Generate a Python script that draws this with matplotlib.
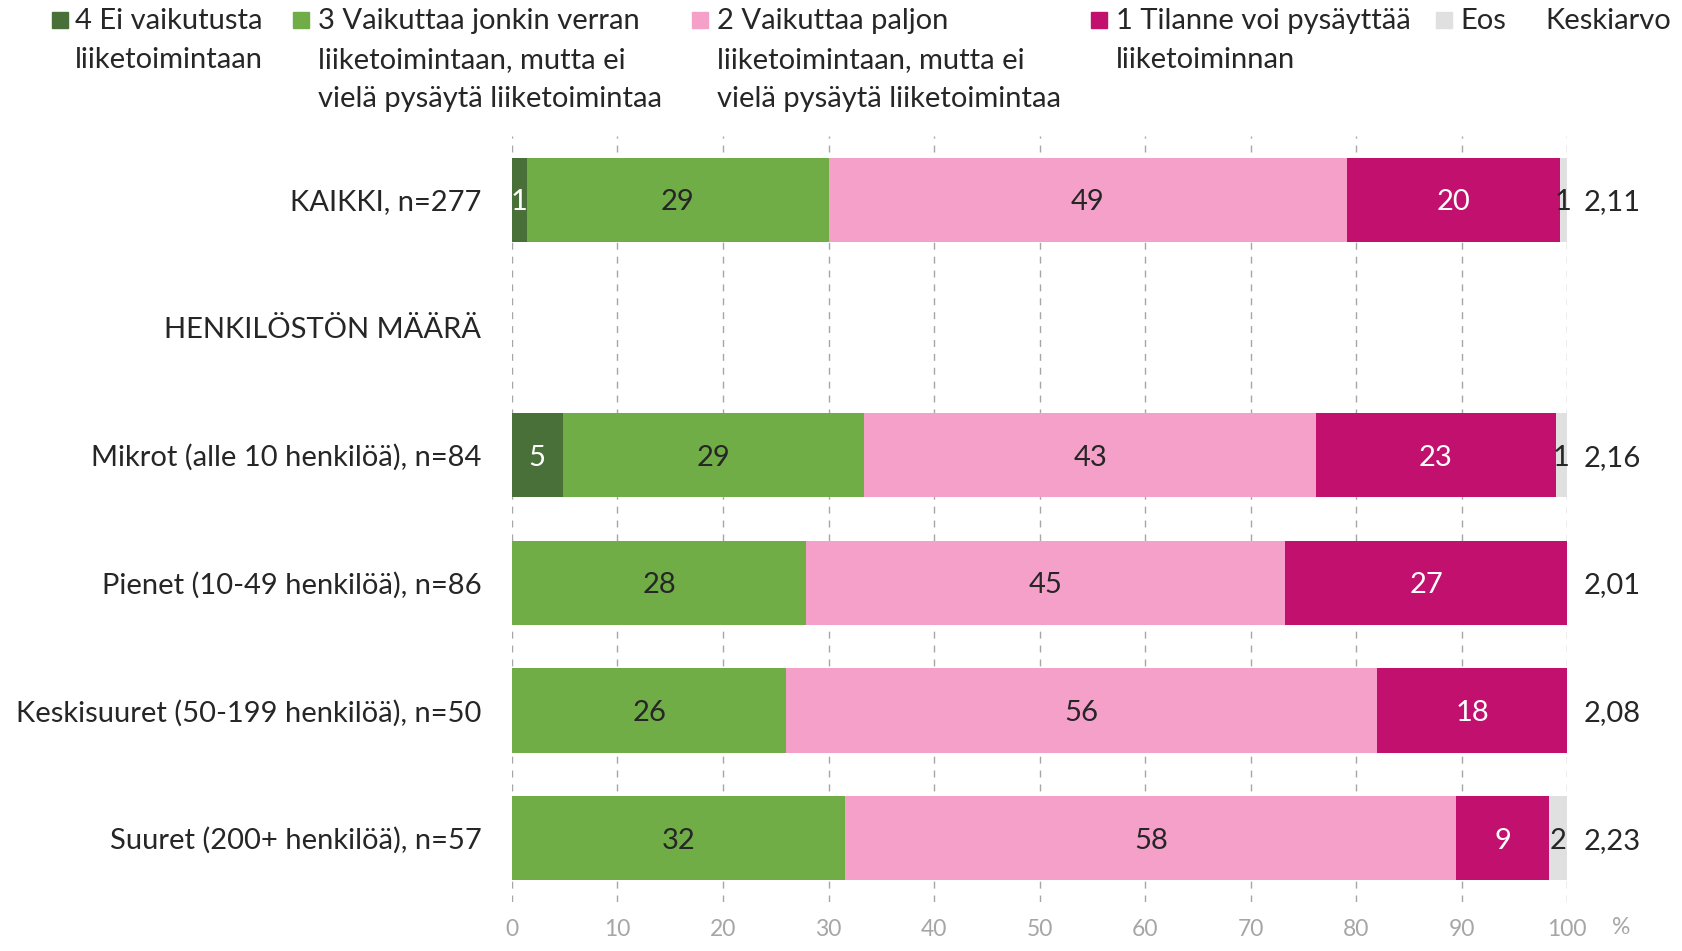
import matplotlib
matplotlib.use("Agg")
import matplotlib.pyplot as plt
import numpy as np

plt.rcParams['font.family'] = ['Lato', 'DejaVu Sans']

categories = ["KAIKKI, n=277", "HENKILÖSTÖN MÄÄRÄ", "Mikrot (alle 10 henkilöä), n=84",
              "Pienet (10-49 henkilöä), n=86", "Keskisuuret (50-199 henkilöä), n=50",
              "Suuret (200+ henkilöä), n=57"]
series_names = ["4 Ei vaikutusta\nliiketoimintaan",
                "3 Vaikuttaa jonkin verran\nliiketoimintaan, mutta ei\nvielä pysäytä liiketoimintaa",
                "2 Vaikuttaa paljon\nliiketoimintaan, mutta ei\nvielä pysäytä liiketoimintaa",
                "1 Tilanne voi pysäyttää\nliiketoiminnan",
                "Eos"]
s4 = [1.4, 0, 4.8, 0, 0, 0]
s3 = [28.6, 0, 28.6, 27.9, 26.0, 31.6]
s2 = [49.1, 0, 42.8, 45.4, 56.0, 57.9]
s1 = [20.2, 0, 22.7, 26.7, 18.0, 8.8]
eos = [0.7, 0, 1.1, 0, 0, 1.7]
keskiarvo = ["2,11", "", "2,16", "2,01", "2,08", "2,23"]
xticks = [0, 10, 20, 30, 40, 50, 60, 70, 80, 90, 100]

colors = ["#4a7039", "#70ad47", "#f4a0c8", "#c2106e", "#e0e0e0"]
txtcolors = ["white", "#262626", "#262626", "white", "#262626"]

fig = plt.figure(figsize=(16.83, 9.51), dpi=100)
ax = fig.add_axes([0.3042, 0.0515, 0.627, 0.8055])

y = np.arange(len(categories))
left = np.zeros(len(categories))
fs = 21
for vals, col, tc in zip([s4, s3, s2, s1, eos], colors, txtcolors):
    vals = np.array(vals, dtype=float)
    ax.barh(y, vals, left=left, height=0.66, color=col, zorder=2)
    for yi, (l, v) in enumerate(zip(left, vals)):
        if v > 0:
            ax.text(l + v / 2, yi + 0.02, f"{int(round(v))}", ha="center", va="center",
                    color=tc, fontsize=fs, zorder=3)
    left = left + vals

ax.set_ylim(5.5, -0.5)
ax.set_xlim(0, 100)
ax.set_yticks(y)
ax.set_yticklabels(categories, fontsize=fs, color="#262626", va="center_baseline")
ax.tick_params(axis="y", length=0, pad=22)
ax.set_xticks(xticks)
ax.set_xticklabels([str(t) for t in xticks], fontsize=16.5, color="#a6a6a6")
ax.tick_params(axis="x", length=0, pad=12)
ax.grid(axis="x", color="#a6a6a6", linestyle=(0, (5, 5)), linewidth=1, zorder=0)
for s in ax.spines.values():
    s.set_visible(False)

for yi, k in enumerate(keskiarvo):
    ax.text(1.016, yi + 0.02, k, transform=ax.get_yaxis_transform(), ha="left", va="center",
            fontsize=fs, color="#262626")

fig.text(1612 / 1683, 1 - 928 / 951, "%", ha="left", va="center", fontsize=16.5, color="#a6a6a6")

# legend
sq_x = [52, 293, 692, 1091, 1436]
tx_x = [75, 318, 717, 1116, 1460]
W, H = 1683, 951
for name, col, sx, tx in zip(series_names, colors, sq_x, tx_x):
    fig.patches.append(plt.Rectangle((sx / W, 1 - 28 / H), 16 / W, 16 / H, color=col,
                                     transform=fig.transFigure, figure=fig))
    fig.text(tx / W, 1 - 8 / H, name, ha="left", va="top", fontsize=fs, color="#262626",
             linespacing=1.62)
fig.text(1545 / W, 1 - 8 / H, "Keskiarvo", ha="left", va="top", fontsize=fs, color="#262626")

fig.savefig("out.png", dpi=100)
